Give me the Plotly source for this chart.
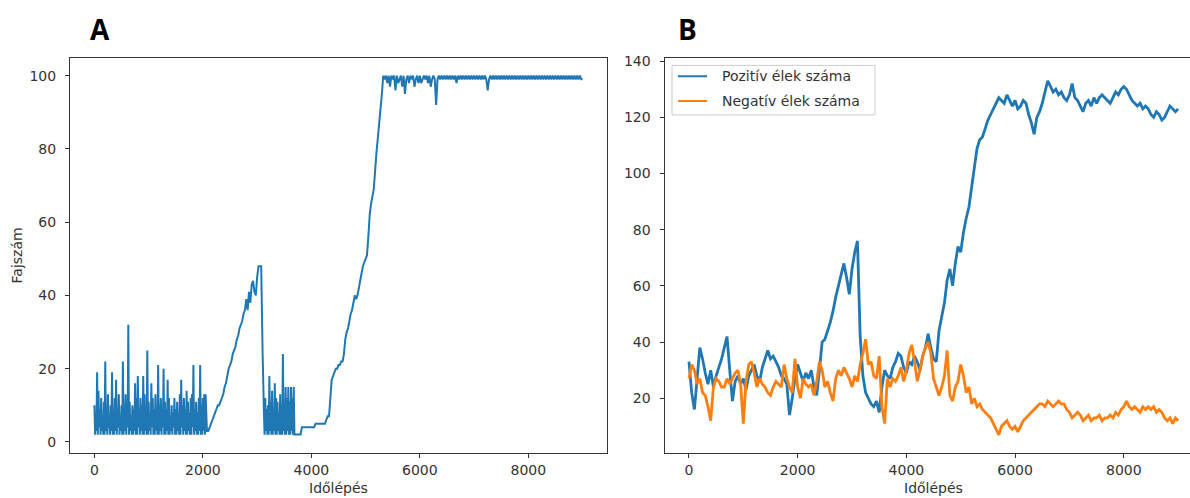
import plotly.graph_objects as go

# ---------------- data ----------------
STEP_A = 25   # time-step spacing of panel A samples
STEP_B = 50   # time-step spacing of panel B samples

# Panel A: Fajszám (species count), one row = 500 time steps.
# In the two noisy stretches these are the upper values of the oscillation.
fajszam = (
    [10, 8, 19, 14, 9, 12, 7, 11, 22, 9, 13, 6, 10, 19, 8, 12, 17, 9, 13, 7] +
    [10, 22, 8, 13, 9, 32, 11, 6, 10, 9, 16, 12, 18, 8, 12, 10, 18, 13, 9, 25] +
    [11, 8, 16, 12, 9, 13, 7, 21, 10, 12, 8, 20, 11, 9, 17, 12, 7, 10, 8, 12] +
    [9, 11, 8, 13, 17, 10, 12, 9, 14, 11, 8, 12, 13, 21, 9, 11, 8, 12, 21, 10] +
    [12, 13, 13, 3, 3, 4, 5, 6, 7, 8, 9, 10, 10, 11, 12, 13, 15, 16, 18, 20] +
    [21, 22, 24, 25, 26, 28, 29, 31, 32, 33, 35, 36, 39, 36, 41, 38, 43, 44, 41, 40] +
    [45, 48, 48, 48, 25, 8, 12, 9, 10, 18, 11, 14, 9, 16, 12, 11, 8, 13, 10, 24] +
    [9, 15, 12, 15, 11, 15, 12, 15, 2, 2, 2, 2, 2, 4, 4, 4, 4, 4, 4, 4] +
    [4, 4, 4, 5, 5, 5, 5, 5, 5, 5, 5, 6, 7, 7, 12, 17, 18, 19, 20, 20] +
    [21, 21, 22, 22, 24, 28, 30, 31, 33, 35, 36, 38, 40, 39, 40, 42, 44, 46, 48, 49] +
    [50, 51, 56, 62, 65, 67, 69, 74, 79, 83, 87, 91, 95, 100, 99, 100, 98, 100, 97, 100] +
    [99, 100, 96, 100, 98, 99, 100, 97, 100, 95, 99, 100, 98, 100, 99, 100, 97, 99, 100, 98] +
    [100, 98, 99, 100, 99, 100, 98, 100, 97, 99, 100, 99, 92, 99, 100, 99, 100, 99, 100, 99] +
    [100, 99, 100, 99, 100, 99, 100, 98, 100, 99, 100, 99, 100, 99, 100, 99, 100, 99, 100, 99] +
    [100, 99, 100, 99, 100, 99, 100, 99, 100, 99, 96, 99, 100, 99, 100, 99, 100, 99, 100, 99] +
    [100, 99, 100, 99, 100, 99, 100, 99, 100, 99, 100, 99, 100, 99, 100, 99, 100, 99, 100, 99] +
    [100, 99, 100, 99, 100, 99, 100, 99, 100, 99, 100, 99, 100, 99, 100, 99, 100, 99, 100, 99] +
    [100, 99, 100, 99, 100, 99, 100, 99, 100, 99, 100, 99, 100, 99, 100, 99, 100, 99, 100, 99] +
    [99]
)
# Lower values of the oscillation, half a sample after each upper value
ZAJ1_START = 0       # first noisy stretch starts at this time step
zaj_also_1 = (
    [2, 3, 2, 4, 2, 3, 2, 2, 3, 2, 4, 2, 3, 2, 2, 3, 2, 4, 2, 3] +
    [2, 2, 3, 2, 4, 2, 3, 2, 2, 3, 2, 2, 4, 2, 3, 2, 2, 3, 2, 2] +
    [3, 2, 4, 2, 2, 3, 2, 2, 3, 2, 4, 2, 2, 3, 2, 2, 3, 2, 4, 2] +
    [2, 3, 2, 2, 4, 2, 3, 2, 2, 3, 2, 2, 4, 2, 3, 2, 2, 3, 2, 2] +
    [3, 2]
)
ZAJ2_START = 3125    # second noisy stretch starts at this time step
zaj_also_2 = [2, 3, 2, 2, 3, 2, 2, 3, 2, 2, 3, 2, 2, 2, 3, 2, 2, 3, 2, 2, 3, 2, 2]

# Panel B: positive / negative edge counts, one row = 500 time steps
pozitiv = (
    [33, 22, 16, 27, 38, 34, 29, 25, 30, 24] +
    [28, 31, 34, 38, 42, 30, 19, 26, 28, 25] +
    [27, 23, 28, 30, 32, 28, 26, 31, 34, 37] +
    [34, 35, 33, 31, 28, 27, 25, 14, 20, 27] +
    [32, 29, 26, 29, 27, 30, 24, 21, 30, 40] +
    [41, 44, 47, 51, 56, 60, 64, 68, 63, 57] +
    [66, 72, 76, 42, 28, 22, 20, 18, 17, 19] +
    [15, 24, 30, 28, 27, 31, 33, 36, 35, 31] +
    [29, 33, 32, 35, 33, 30, 35, 38, 43, 38] +
    [34, 33, 44, 49, 54, 62, 66, 60, 68, 74] +
    [72, 79, 84, 88, 95, 102, 109, 112, 113, 116] +
    [119, 121, 123, 125, 127, 126, 125, 128, 126, 124] +
    [126, 123, 124, 126, 125, 121, 118, 114, 120, 122] +
    [125, 129, 133, 131, 129, 130, 128, 129, 127, 126] +
    [128, 132, 127, 126, 124, 122, 125, 126, 124, 127] +
    [125, 127, 128, 127, 126, 125, 127, 129, 128, 130] +
    [131, 130, 128, 126, 125, 124, 125, 123, 124, 123] +
    [121, 120, 122, 121, 119, 120, 122, 124, 123, 122] +
    [123]
)
negativ = (
    [27, 32, 30, 25, 27, 22, 21, 17, 12, 24] +
    [27, 26, 24, 24, 27, 25, 27, 29, 30, 25] +
    [11, 26, 32, 33, 29, 24, 27, 25, 24, 22] +
    [21, 24, 26, 25, 24, 32, 27, 24, 22, 34] +
    [24, 20, 27, 25, 24, 25, 21, 26, 33, 30] +
    [24, 26, 22, 19, 27, 30, 28, 31, 29, 27] +
    [24, 28, 26, 32, 36, 41, 32, 33, 28, 27] +
    [35, 17, 11, 27, 24, 27, 26, 28, 31, 26] +
    [30, 36, 39, 33, 26, 30, 35, 38, 40, 36] +
    [27, 24, 21, 24, 28, 37, 21, 19, 24, 26] +
    [32, 28, 22, 24, 18, 20, 17, 18, 16, 15] +
    [14, 13, 11, 9, 7, 10, 11, 12, 10, 9] +
    [10, 8, 10, 12, 13, 14, 15, 16, 17, 18] +
    [18, 17, 19, 18, 17, 18, 19, 18, 18, 16] +
    [15, 13, 14, 15, 14, 12, 13, 14, 12, 13] +
    [13, 14, 12, 13, 13, 14, 13, 15, 14, 16] +
    [17, 19, 17, 16, 17, 16, 15, 17, 16, 17] +
    [16, 17, 15, 16, 15, 13, 12, 13, 11, 13] +
    [12]
)

x_ticks = [0, 2000, 4000, 6000, 8000]
y_ticks_a = [0, 20, 40, 60, 80, 100]
y_ticks_b = [20, 40, 60, 80, 100, 120, 140]
series_names = ["Pozitív élek száma", "Negatív élek száma"]

# merge upper and lower oscillation values into one time series for panel A
also_at = {}
for start, lows in ((ZAJ1_START, zaj_also_1), (ZAJ2_START, zaj_also_2)):
    for k, v in enumerate(lows):
        also_at[start + k * STEP_A] = v
t_a, v_a = [], []
for i, v in enumerate(fajszam):
    t = i * STEP_A
    t_a.append(t)
    v_a.append(v)
    if t in also_at:
        t_a.append(t + STEP_A / 2)
        v_a.append(also_at[t])

t_b = [i * STEP_B for i in range(len(pozitiv))]

# ---------------- layout helpers ----------------
W, H = 1190, 498
def px(x):
    return x / W
def py(y):
    return 1 - y / H

BLUE = "#1f77b4"
ORANGE = "#ff7f0e"
INK = "#333333"
FONT = "DejaVu Sans"
FS = 14

fig = go.Figure()
fig.add_trace(go.Scatter(x=t_a, y=v_a, mode="lines",
                         line=dict(color=BLUE, width=2.0, simplify=False),
                         xaxis="x", yaxis="y", showlegend=False, name="Fajszám"))
fig.add_trace(go.Scatter(x=t_b, y=pozitiv, mode="lines",
                         line=dict(color=BLUE, width=2.8, simplify=False),
                         xaxis="x2", yaxis="y2", showlegend=False, name=series_names[0]))
fig.add_trace(go.Scatter(x=t_b, y=negativ, mode="lines",
                         line=dict(color=ORANGE, width=2.8, simplify=False),
                         xaxis="x2", yaxis="y2", showlegend=False, name=series_names[1]))

axis_common = dict(showline=True, linecolor=INK, linewidth=1, ticks="outside", ticklen=4,
                   tickcolor=INK, tickwidth=1, showgrid=False, zeroline=False,
                   tickfont=dict(family=FONT, size=FS, color=INK))

y_dom = [py(452.3), py(53.3)]
fig.update_layout(
    width=W, height=H, margin=dict(l=0, r=0, t=0, b=0),
    paper_bgcolor="white", plot_bgcolor="white",
    xaxis=dict(domain=[px(70), px(607)], range=[-450, 9450], tickvals=x_ticks,
               anchor="y", mirror=True, **axis_common),
    yaxis=dict(domain=y_dom, range=[-2.95, 104.9], tickvals=y_ticks_a,
               anchor="x", mirror=True, ticklabelstandoff=6, **axis_common),
    xaxis2=dict(domain=[px(664.5), 1.0], range=[-450, 9218], tickvals=x_ticks,
                anchor="y2", mirror=True, **axis_common),
    yaxis2=dict(domain=y_dom, range=[0.6, 141.2], tickvals=y_ticks_b,
                anchor="x2", mirror=False, ticklabelstandoff=6, **axis_common),
    showlegend=False,
)

ann = []
for letter, cx in (("A", 99.5), ("B", 687.6)):
    ann.append(dict(text="<b>%s</b>" % letter, x=px(cx), y=py(24), xref="paper", yref="paper",
                    showarrow=False, font=dict(family="Open Sans", size=28, color="black"),
                    xanchor="center", yanchor="middle"))
ann.append(dict(text="Fajszám", x=px(17), y=py(253), xref="paper", yref="paper",
                showarrow=False, textangle=-90, font=dict(family=FONT, size=FS, color=INK),
                xanchor="center", yanchor="middle"))
for cx in (338.5, 933.5):
    ann.append(dict(text="Időlépés", x=px(cx), y=py(488), xref="paper", yref="paper",
                    showarrow=False, font=dict(family=FONT, size=FS, color=INK),
                    xanchor="center", yanchor="middle"))
# legend (drawn manually to match matplotlib spacing)
legend_rows = [(72, BLUE), (97, ORANGE)]
shapes = [dict(type="rect", xref="paper", yref="paper", x0=px(672), x1=px(875),
               y0=py(111), y1=py(61), line=dict(color="#cccccc", width=1),
               fillcolor="rgba(255,255,255,0.8)", layer="above")]
for (ry, col), name in zip(legend_rows, series_names):
    shapes.append(dict(type="line", xref="paper", yref="paper", x0=px(678), x1=px(707),
                       y0=py(ry), y1=py(ry), line=dict(color=col, width=2), layer="above"))
    ann.append(dict(text=name, x=px(720), y=py(ry), xref="paper", yref="paper",
                    showarrow=False, font=dict(family=FONT, size=FS, color=INK),
                    xanchor="left", yanchor="middle"))

fig.update_layout(annotations=ann, shapes=shapes)
fig.write_html(
    "out.html",
    config={"displayModeBar": False},
    post_script="document.body.style.margin='0';document.body.style.overflow='hidden';",
)
